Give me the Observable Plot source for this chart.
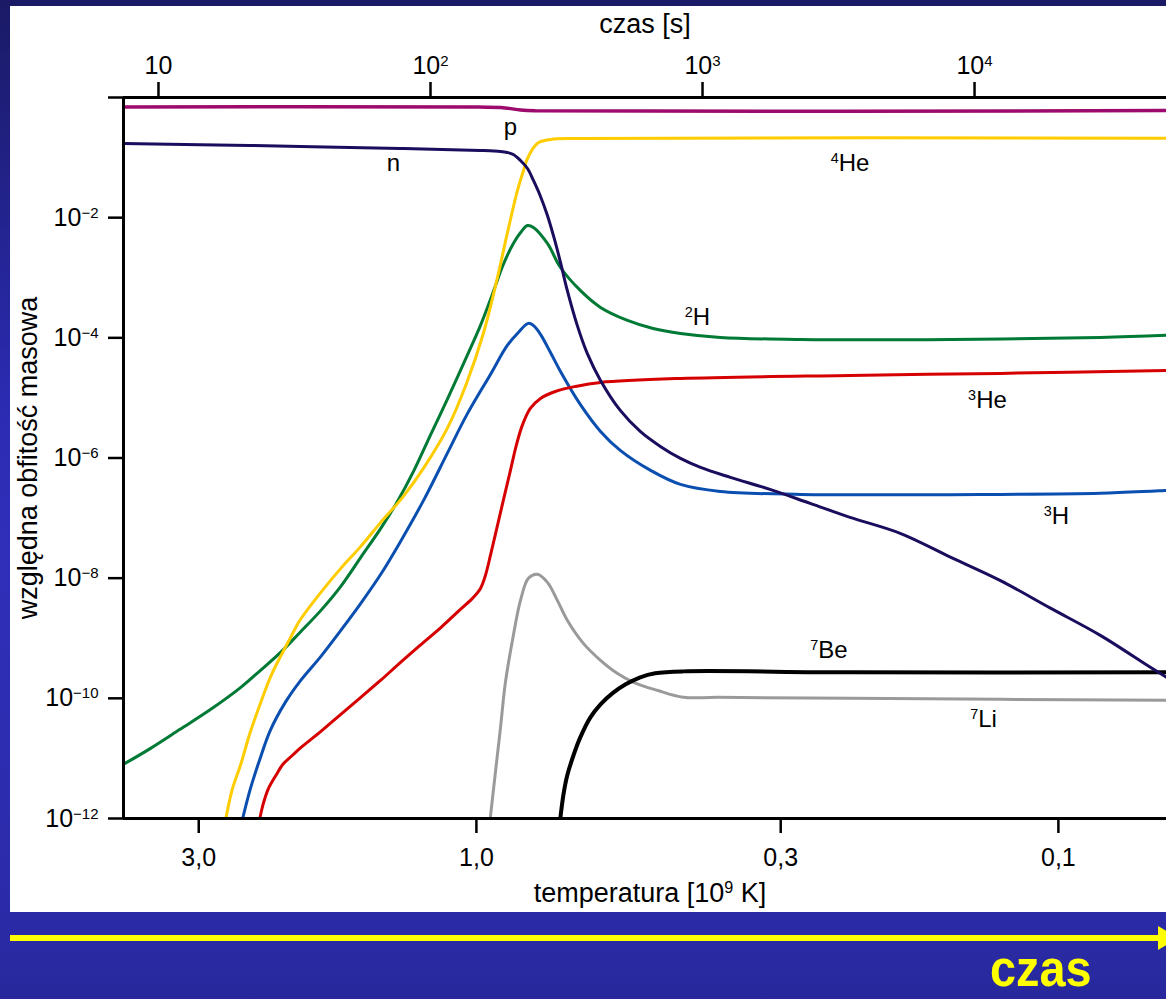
<!DOCTYPE html>
<html><head><meta charset="utf-8">
<script src="https://cdn.jsdelivr.net/npm/d3@7"></script>
<script src="https://cdn.jsdelivr.net/npm/@observablehq/plot@0.6"></script>
<style>
html,body{margin:0;padding:0;}
body{width:1166px;height:999px;overflow:hidden;position:relative;
 background:linear-gradient(180deg,#1a1a66 0%,#2b2bb2 40%,#2f2fba 55%,#2b2baa 90%,#28289c 100%);
 font-family:"Liberation Sans",Arial,sans-serif;}
#chart{position:absolute;left:10px;top:6px;}
#arrow{position:absolute;left:10px;top:935px;width:1152px;height:6px;background:#ffff00;}
#head{position:absolute;left:1158px;top:926px;width:0;height:0;border-top:12px solid transparent;border-bottom:12px solid transparent;border-left:20px solid #ffff00;}
#czas{position:absolute;left:990px;top:948px;height:40px;color:#ffff00;font:bold 52px "Liberation Sans",Arial,sans-serif;line-height:40px;transform:scaleX(0.9);transform-origin:left top;white-space:nowrap;}
</style></head>
<body>
<div id="chart"></div>
<div id="arrow"></div><div id="head"></div>
<div id="czas">czas</div>
<script>
// ---- data (temperature in 10^9 K, relative mass abundance) ----
const pT = [4.04, 1.02, 0.892, 0.840, 0.792, 0.0652];
const pX = [0.695, 0.695, 0.669, 0.619, 0.600, 0.605];

const nT = [4.04, 2.45, 1.35, 0.984, 0.909, 0.885, 0.864, 0.840, 0.817, 0.798, 0.776, 0.755, 0.735, 0.717, 0.698, 0.671, 0.645, 0.612, 0.566, 0.523, 0.483, 0.446, 0.412, 0.366, 0.313, 0.267, 0.228, 0.187, 0.153, 0.126, 0.103, 0.0847, 0.0695, 0.0652];
const nX = [0.1716, 0.159, 0.1417, 0.1312, 0.1263, 0.1216, 0.1126, 0.0894, 0.0659, 0.0416, 0.02254, 0.01088, 4.51e-3, 1.80e-3, 6.15e-4, 1.61e-4, 5.50e-5, 1.955e-5, 6.19e-6, 2.77e-6, 1.56e-6, 9.85e-7, 6.98e-7, 4.76e-7, 3.00e-7, 1.756e-7, 1.027e-7, 5.57e-8, 2.22e-8, 9.19e-9, 3.14e-9, 1.117e-9, 3.28e-10, 2.24e-10];

const he4T = [2.71, 2.63, 2.54, 2.45, 2.35, 2.26, 2.17, 2.09, 2.01, 1.85, 1.71, 1.58, 1.46, 1.335, 1.23, 1.12, 1.04, 0.973, 0.920, 0.885, 0.850, 0.830, 0.817, 0.786, 0.746, 0.663, 0.0652];
const he4X = [7.41e-13, 2.94e-12, 7.98e-12, 2.62e-11, 8.26e-11, 2.24e-10, 5.00e-10, 9.95e-10, 1.99e-9, 5.81e-9, 1.456e-8, 3.38e-8, 8.48e-8, 2.30e-7, 6.98e-7, 3.23e-6, 1.74e-5, 1.18e-4, 1.01e-3, 5.46e-3, 0.0284, 0.061, 0.0966, 0.172, 0.200, 0.208, 0.210];

const h2T = [4.04, 3.63, 3.23, 2.86, 2.54, 2.35, 2.17, 2.01, 1.85, 1.71, 1.58, 1.46, 1.37, 1.28, 1.20, 1.12, 1.05, 0.984, 0.939, 0.899, 0.864, 0.837, 0.817, 0.798, 0.755, 0.717, 0.663, 0.612, 0.550, 0.497, 0.446, 0.381, 0.277, 0.153, 0.0847, 0.0652];
const h2X = [7.98e-12, 1.47e-11, 3.05e-11, 6.56e-11, 1.52e-10, 2.92e-10, 5.82e-10, 1.25e-9, 2.91e-9, 7.31e-9, 2.22e-8, 6.74e-8, 1.82e-7, 6.22e-7, 2.38e-6, 9.81e-6, 3.90e-5, 1.61e-4, 5.27e-4, 1.66e-3, 3.72e-3, 5.89e-3, 7.41e-3, 6.87e-3, 3.72e-3, 1.48e-3, 6.15e-4, 3.21e-4, 1.95e-4, 1.43e-4, 1.18e-4, 1.016e-4, 9.40e-5, 9.40e-5, 1.016e-4, 1.10e-4];

const h3T = [2.54, 2.45, 2.35, 2.26, 2.13, 2.01, 1.85, 1.71, 1.58, 1.46, 1.35, 1.23, 1.12, 1.04, 0.946, 0.885, 0.847, 0.814, 0.795, 0.776, 0.746, 0.717, 0.663, 0.612, 0.566, 0.502, 0.446, 0.381, 0.277, 0.126, 0.0847, 0.0652];
const h3X = [7.41e-13, 2.94e-12, 1.04e-11, 2.94e-11, 8.57e-11, 1.92e-10, 5.00e-10, 1.35e-9, 3.81e-9, 1.16e-8, 4.09e-8, 2.05e-7, 1.24e-6, 5.12e-6, 2.46e-5, 7.48e-5, 1.23e-4, 1.74e-4, 1.55e-4, 1.14e-4, 5.71e-5, 2.76e-5, 7.80e-6, 2.77e-6, 1.34e-6, 6.22e-7, 3.64e-7, 2.78e-7, 2.48e-7, 2.48e-7, 2.58e-7, 2.89e-7];

const he3T = [2.37, 2.33, 2.28, 2.21, 2.15, 2.07, 2.01, 1.85, 1.71, 1.58, 1.46, 1.35, 1.25, 1.15, 1.07, 1.016, 0.984, 0.965, 0.946, 0.920, 0.899, 0.874, 0.854, 0.834, 0.808, 0.776, 0.732, 0.676, 0.612, 0.446, 0.228, 0.126, 0.0652];
const he3X = [7.41e-13, 1.60e-12, 3.06e-12, 5.24e-12, 7.98e-12, 1.13e-11, 1.47e-11, 2.82e-11, 5.42e-11, 1.04e-10, 2.00e-10, 3.97e-10, 7.62e-10, 1.52e-9, 2.91e-9, 4.61e-9, 6.76e-9, 1.11e-8, 2.39e-8, 7.56e-8, 1.97e-7, 6.22e-7, 1.62e-6, 3.49e-6, 6.68e-6, 9.81e-6, 1.28e-5, 1.55e-5, 1.81e-5, 2.11e-5, 2.37e-5, 2.56e-5, 2.87e-5];

const li7T = [0.950, 0.928, 0.909, 0.892, 0.867, 0.840, 0.814, 0.786, 0.755, 0.726, 0.698, 0.655, 0.612, 0.573, 0.537, 0.489, 0.441, 0.385, 0.228, 0.126, 0.0652];
const li7X = [7.41e-13, 5.65e-12, 3.29e-11, 1.78e-10, 9.23e-10, 4.27e-9, 9.93e-9, 1.16e-8, 8.51e-9, 4.27e-9, 1.99e-9, 8.22e-10, 4.29e-10, 2.61e-10, 1.85e-10, 1.36e-10, 1.04e-10, 1.04e-10, 1.00e-10, 9.62e-11, 9.26e-11];

const be7T = [0.720, 0.709, 0.698, 0.681, 0.663, 0.637, 0.612, 0.584, 0.554, 0.523, 0.493, 0.441, 0.228, 0.0652];
const be7X = [7.41e-13, 2.43e-12, 5.24e-12, 1.13e-11, 2.24e-11, 4.83e-11, 7.94e-11, 1.21e-10, 1.71e-10, 2.24e-10, 2.61e-10, 2.81e-10, 2.71e-10, 2.71e-10];

// curve labels
const labelText = ["p", "n", "⁴He", "²H", "³He", "³H", "⁷Be", "⁷Li"];
const labelT    = [0.874, 1.389, 0.228, 0.417, 0.1324, 0.1008, 0.248, 0.1345];
const labelX    = [0.317, 0.0797, 0.0797, 2.18e-4, 9.08e-6, 1.07e-7, 6.29e-10, 4.48e-11];

// axes
const tempTicks = [3, 1, 0.3, 0.1];
const timeTicks = [10, 100, 1000, 10000];
const timeTickLabels = ["10", "10²", "10³", "10⁴"];
const abundanceTicks = [1, 1e-2, 1e-4, 1e-6, 1e-8, 1e-10, 1e-12];
const tempDomain = [4.04, 0.0652];
const abundanceDomain = [1e-12, 1];
// time–temperature relation: T9 = a * t^-b
const tempAtOneSecond = 10.32, coolingExponent = 0.4674;
const timeToTemp = t => tempAtOneSecond * Math.pow(t, -coolingExponent);

const sup = {"0":"⁰","1":"¹","2":"²","3":"³","4":"⁴","5":"⁵","6":"⁶","7":"⁷","8":"⁸","9":"⁹","-":"⁻"};
const powLabel = d => d === 1 ? "" : "10" + String(Math.round(Math.log10(d))).split("").map(c => sup[c]).join("");
const topLabelMap = new Map(timeTicks.map((t, i) => [timeToTemp(t), timeTickLabels[i]]));

const series = [
  {T: pT, X: pX, color: "#9c0a6e", w: 3.5},
  {T: h2T, X: h2X, color: "#007a35", w: 3},
  {T: he4T, X: he4X, color: "#ffcc00", w: 3},
  {T: h3T, X: h3X, color: "#0a4fb0", w: 3},
  {T: he3T, X: he3X, color: "#d60000", w: 3},
  {T: li7T, X: li7X, color: "#9a9a9a", w: 3},
  {T: be7T, X: be7X, color: "#000000", w: 4},
  {T: nT, X: nX, color: "#1c0c5e", w: 3}
];

const lineMarks = series.map(s =>
  Plot.line(s.T.map((t, i) => ({T: t, X: s.X[i]})), {
    x: "T", y: "X", stroke: s.color, strokeWidth: s.w, curve: "catmull-rom", clip: true
  }));

const labels = labelText.map((t, i) => ({text: t, T: labelT[i], X: labelX[i]}));

const chart = Plot.plot({
  width: 1156, height: 906,
  marginLeft: 113, marginRight: 0, marginTop: 91, marginBottom: 94,
  style: {background: "#ffffff", color: "#000", fontFamily: "'Liberation Sans', Arial, sans-serif", fontSize: "25px", overflow: "visible"},
  x: {type: "log", domain: tempDomain},
  y: {type: "log", domain: abundanceDomain},
  marks: [
    Plot.axisY({ticks: abundanceTicks, tickFormat: powLabel, tickSize: 15, tickPadding: 10, strokeWidth: 2.5, fontSize: 25, label: null}),
    Plot.axisX({anchor: "bottom", ticks: tempTicks, tickFormat: d => d.toFixed(1).replace(".", ","), tickSize: 15, tickPadding: 15, strokeWidth: 2.5, fontSize: 25, label: null}),
    Plot.axisX({anchor: "top", ticks: timeTicks.map(timeToTemp), tickFormat: d => topLabelMap.get(d), tickSize: 16, tickPadding: 8, strokeWidth: 2.5, fontSize: 25, label: null}),
    ...lineMarks,
    Plot.ruleY([abundanceDomain[0], abundanceDomain[1]], {stroke: "#000", strokeWidth: 3}),
    Plot.ruleX([tempDomain[0]], {stroke: "#000", strokeWidth: 3}),
    Plot.text(labels, {x: "T", y: "X", text: "text", fontSize: 24, fill: "#000"}),
    Plot.text(["czas [s]"], {frameAnchor: "top", dy: -84, fontSize: 27, fill: "#000"}),
    Plot.text(["temperatura [10⁹ K]"], {frameAnchor: "bottom", dx: 5, dy: 83, fontSize: 27, fill: "#000"}),
    Plot.text(["względna obfitość masowa"], {frameAnchor: "left", textAnchor: "middle", dx: -95, rotate: -90, fontSize: 27, fill: "#000"})
  ]
});

// render Unicode superscripts as raised, smaller tspans
const unsup = {"⁰":"0","¹":"1","²":"2","³":"3","⁴":"4","⁵":"5","⁶":"6","⁷":"7","⁸":"8","⁹":"9","⁻":"−"};
const NS = "http://www.w3.org/2000/svg";
chart.querySelectorAll("text").forEach(t => {
  const nodes = t.querySelector("tspan") ? [...t.querySelectorAll("tspan")] : [t];
  nodes.forEach(node => {
    const s = node.textContent;
    if (![...s].some(c => c in unsup)) return;
    const runs = [];
    for (const c of s) {
      const isSup = c in unsup, ch = isSup ? unsup[c] : c, last = runs[runs.length - 1];
      if (last && last.sup === isSup) last.text += ch; else runs.push({sup: isSup, text: ch});
    }
    node.textContent = "";
    runs.forEach(r => {
      const ts = document.createElementNS(NS, "tspan");
      ts.textContent = r.text;
      if (r.sup) { ts.setAttribute("baseline-shift", "super"); ts.style.fontSize = "0.6em"; }
      node.appendChild(ts);
    });
  });
});
document.getElementById("chart").appendChild(chart);
</script>
</body></html>
